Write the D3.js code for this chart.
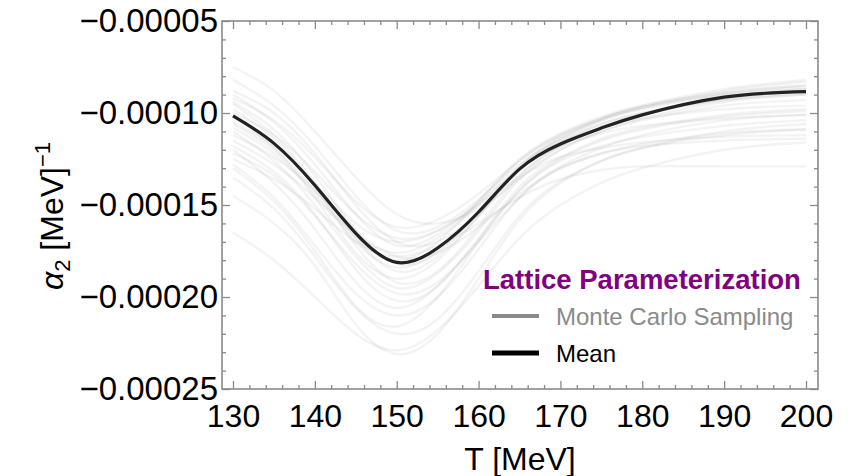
<!DOCTYPE html>
<html>
<head>
<meta charset="utf-8">
<script src="https://cdn.jsdelivr.net/npm/d3@7"></script>
<style>
  body { margin: 0; background: #fff; }
  svg { font-family: "Liberation Sans", Arial, sans-serif; }
</style>
</head>
<body>
<div id="chart"></div>
<script>
const temps = [130, 135, 140, 145, 150, 155, 160, 165, 170, 175, 180, 190, 200];

// mean alpha_2, in units of 1e-5 MeV^-1
const meanE5 = [-10.16, -11.65, -13.93, -16.54, -18.12, -17.34, -15.38, -13.05, -11.68, -10.82, -10.1, -9.14, -8.84];

// Monte Carlo samples, same units
const samplesE5 = [
  [-9.0, -10.5, -12.8, -15.5, -17.2, -16.6, -14.8, -12.6, -11.2, -10.3, -9.7, -8.9, -8.5],
  [-9.5, -11.2, -13.8, -16.8, -18.6, -17.8, -15.6, -13.1, -11.6, -10.6, -10.0, -9.2, -8.8],
  [-11.0, -12.6, -15.0, -17.8, -19.5, -18.7, -16.4, -13.6, -12.0, -11.0, -10.4, -9.6, -9.3],
  [-12.0, -13.8, -16.3, -19.2, -20.6, -19.4, -16.8, -14.0, -12.4, -11.4, -10.8, -10.1, -9.8],
  [-13.0, -14.8, -17.5, -20.5, -21.6, -20.0, -17.0, -14.2, -12.6, -11.8, -11.3, -10.7, -10.4],
  [-16.5, -18.0, -20.0, -22.0, -22.9, -21.8, -19.4, -16.8, -15.0, -13.8, -13.0, -12.0, -11.6],
  [-14.5, -16.0, -18.3, -21.5, -23.1, -22.0, -19.0, -15.8, -13.8, -12.6, -11.9, -11.0, -10.6],
  [-7.5, -8.8, -11.0, -13.5, -15.5, -16.0, -15.2, -13.6, -12.0, -11.0, -10.3, -9.4, -9.0],
  [-8.2, -9.6, -11.8, -14.5, -16.4, -16.2, -14.7, -12.8, -11.4, -10.4, -9.7, -8.8, -8.3],
  [-10.5, -11.8, -13.8, -16.0, -17.0, -16.4, -15.0, -13.5, -12.4, -11.9, -11.6, -11.3, -11.2],
  [-12.5, -13.6, -15.2, -17.0, -17.8, -17.2, -16.0, -14.6, -13.6, -13.1, -12.9, -12.9, -12.9],
  [-11.5, -12.8, -14.6, -16.6, -17.6, -16.8, -15.0, -13.0, -11.8, -11.1, -10.7, -10.3, -10.1],
  [-9.8, -11.4, -14.0, -17.2, -19.2, -18.6, -16.2, -13.4, -11.8, -10.8, -10.1, -9.3, -8.9],
  [-10.8, -12.2, -14.4, -17.0, -18.4, -17.5, -15.4, -13.0, -11.5, -10.6, -10.0, -9.3, -9.0],
  [-12.2, -13.4, -15.6, -18.2, -19.8, -19.2, -17.0, -14.6, -13.0, -12.2, -11.7, -11.1, -10.9],
  [-13.5, -15.2, -17.8, -20.6, -22.0, -21.2, -18.6, -15.6, -13.7, -12.6, -11.9, -11.2, -10.9],
  [-9.2, -10.4, -12.4, -14.8, -16.2, -15.8, -14.4, -12.6, -11.2, -10.3, -9.7, -9.0, -8.7],
  [-10.2, -11.9, -14.6, -17.6, -19.0, -18.0, -15.6, -13.0, -11.4, -10.4, -9.8, -9.0, -8.6],
  [-11.8, -13.2, -15.5, -18.5, -20.2, -19.4, -16.9, -14.2, -12.5, -11.5, -10.9, -10.2, -9.9],
  [-8.8, -10.0, -12.2, -15.0, -17.0, -17.0, -15.5, -13.4, -11.8, -10.8, -10.1, -9.2, -8.7],
  [-10.0, -11.2, -13.2, -15.5, -16.8, -16.4, -14.9, -13.0, -11.6, -10.8, -10.3, -9.8, -9.6],
  [-12.8, -14.6, -17.2, -19.8, -21.0, -20.0, -17.4, -14.6, -12.9, -11.9, -11.2, -10.4, -10.1],
  [-9.4, -10.9, -13.4, -16.4, -18.2, -17.6, -15.4, -12.9, -11.3, -10.3, -9.6, -8.7, -8.2],
  [-11.2, -12.4, -14.2, -16.4, -17.8, -17.6, -16.2, -14.4, -13.0, -12.2, -11.8, -11.5, -11.4],
  [-10.6, -12.0, -14.2, -16.8, -18.0, -17.0, -14.8, -12.5, -11.1, -10.2, -9.6, -8.9, -8.5]
];

const xMajor = [130, 140, 150, 160, 170, 180, 190, 200];
const xMinor = [132, 134, 136, 138, 142, 144, 146, 148, 152, 154, 156, 158, 162, 164, 166, 168,
                172, 174, 176, 178, 182, 184, 186, 188, 192, 194, 196, 198];
const yMajor = [-0.00025, -0.0002, -0.00015, -0.0001, -0.00005];
const yMinor = [-0.00024, -0.00023, -0.00022, -0.00021, -0.00019, -0.00018, -0.00017, -0.00016,
                -0.00014, -0.00013, -0.00012, -0.00011, -0.00009, -0.00008, -0.00007, -0.00006];

const width = 859, height = 476;
const frame = { left: 222, right: 818, top: 21, bottom: 389 };

const svg = d3.select("#chart").append("svg")
  .attr("width", width)
  .attr("height", height);

const x = d3.scaleLinear().domain([130, 200]).range([233, 806]);
const y = d3.scaleLinear().domain([-0.00025, -0.00005]).range([frame.bottom, frame.top]);

svg.append("defs").append("clipPath").attr("id", "plot-clip")
  .append("rect")
  .attr("x", frame.left).attr("y", frame.top)
  .attr("width", frame.right - frame.left)
  .attr("height", frame.bottom - frame.top);

const line = d3.line()
  .x((d, i) => x(temps[i]))
  .y(d => y(d * 1e-5))
  .curve(d3.curveNatural);

const plot = svg.append("g").attr("clip-path", "url(#plot-clip)");

// sample band
plot.selectAll("path.sample")
  .data(samplesE5)
  .enter()
  .append("path")
  .attr("class", "sample")
  .attr("d", line)
  .attr("fill", "none")
  .attr("stroke", "#888")
  .attr("stroke-opacity", 0.1)
  .attr("stroke-width", 2.4);

// mean
plot.append("path")
  .datum(meanE5)
  .attr("d", line)
  .attr("fill", "none")
  .attr("stroke", "#222")
  .attr("stroke-width", 3.2);

// frame
const frameColor = "#8a8a8a";
svg.append("rect")
  .attr("x", frame.left).attr("y", frame.top)
  .attr("width", frame.right - frame.left)
  .attr("height", frame.bottom - frame.top)
  .attr("fill", "none")
  .attr("stroke", frameColor)
  .attr("stroke-width", 1.6);

// ticks on all four sides, pointing inward
function styleAxis(g, size) {
  g.select(".domain").remove();
  g.selectAll(".tick line").attr("stroke", frameColor).attr("stroke-width", 1.3);
  g.selectAll(".tick text")
    .attr("fill", "#000")
    .style("font-size", (size || 32) + "px")
    .style("font-family", "'Liberation Sans', Arial, sans-serif");
}

const fmtY = d => "\u2212" + Math.abs(d).toFixed(5);

svg.append("g")
  .attr("transform", `translate(0,${frame.bottom})`)
  .call(d3.axisBottom(x).tickValues(xMajor).tickSize(-8).tickPadding(8).tickFormat(d3.format("d")))
  .call(styleAxis)
  .selectAll(".tick text").attr("dy", "0.95em");

svg.append("g")
  .attr("transform", `translate(0,${frame.bottom})`)
  .call(d3.axisBottom(x).tickValues(xMinor).tickSize(-4).tickFormat(""))
  .call(styleAxis);

svg.append("g")
  .attr("transform", `translate(0,${frame.top})`)
  .call(d3.axisTop(x).tickValues(xMajor).tickSize(-8).tickFormat(""))
  .call(styleAxis);

svg.append("g")
  .attr("transform", `translate(0,${frame.top})`)
  .call(d3.axisTop(x).tickValues(xMinor).tickSize(-4).tickFormat(""))
  .call(styleAxis);

svg.append("g")
  .attr("transform", `translate(${frame.left},0)`)
  .call(d3.axisLeft(y).tickValues(yMajor).tickSize(-8).tickPadding(4).tickFormat(fmtY))
  .call(g => styleAxis(g, 33));

svg.append("g")
  .attr("transform", `translate(${frame.left},0)`)
  .call(d3.axisLeft(y).tickValues(yMinor).tickSize(-4).tickFormat(""))
  .call(styleAxis);

svg.append("g")
  .attr("transform", `translate(${frame.right},0)`)
  .call(d3.axisRight(y).tickValues(yMajor).tickSize(-8).tickFormat(""))
  .call(styleAxis);

svg.append("g")
  .attr("transform", `translate(${frame.right},0)`)
  .call(d3.axisRight(y).tickValues(yMinor).tickSize(-4).tickFormat(""))
  .call(styleAxis);

// axis titles
svg.append("text")
  .attr("x", (frame.left + frame.right) / 2)
  .attr("y", 470)
  .attr("text-anchor", "middle")
  .style("font-size", "32px")
  .text("T [MeV]");

const yTitle = svg.append("text")
  .attr("transform", `translate(63,216) rotate(-90)`)
  .attr("text-anchor", "middle")
  .style("font-size", "32px");
yTitle.append("tspan").style("font-style", "italic").text("\u03b1");
yTitle.append("tspan").attr("dy", 7).style("font-size", "22px").text("2");
yTitle.append("tspan").attr("dy", -7).text(" [MeV]");
yTitle.append("tspan").attr("dy", -13).style("font-size", "22px").text("\u22121");

// legend
const legend = svg.append("g");
legend.append("text")
  .attr("x", 483).attr("y", 289)
  .attr("fill", "#800080")
  .style("font-size", "27.5px")
  .style("font-weight", "bold")
  .text("Lattice Parameterization");

const legendItems = [
  { label: "Monte Carlo Sampling", stroke: "#8a8a8a", text: "#8a8a8a", y: 316, w: 4 },
  { label: "Mean", stroke: "#000", text: "#000", y: 353, w: 5 }
];

const items = legend.selectAll("g.item")
  .data(legendItems)
  .enter()
  .append("g")
  .attr("class", "item");

items.append("line")
  .attr("x1", 492).attr("x2", 539)
  .attr("y1", d => d.y).attr("y2", d => d.y)
  .attr("stroke", d => d.stroke)
  .attr("stroke-width", d => d.w);

items.append("text")
  .attr("x", 556)
  .attr("y", d => d.y + 9)
  .attr("fill", d => d.text)
  .style("font-size", "24px")
  .text(d => d.label);
</script>
</body>
</html>
